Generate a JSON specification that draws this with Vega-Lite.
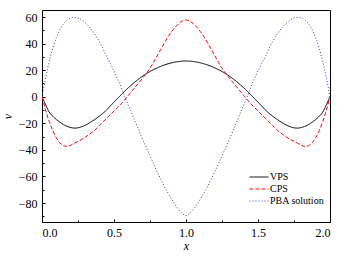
{
  "$schema": "https://vega.github.io/schema/vega-lite/v6.json",
  "autosize": {"type": "none"},
  "padding": {"left": 42, "top": 10, "right": 22, "bottom": 34},
  "width": 288,
  "height": 212,
  "background": "white",
  "config": {
    "view": {"stroke": "#000", "strokeWidth": 1},
    "font": "Liberation Serif",
    "axis": {"domainColor": "#000", "tickColor": "#000", "labelColor": "#000", "titleColor": "#000", "grid": false, "labelFont": "Liberation Serif", "titleFont": "Liberation Serif"}
  },
  "data": {"values": [
    {"x":0,"VPS":0,"CPS":0,"PBA solution":0},
    {"x":0.025,"VPS":-6,"CPS":-10,"PBA solution":14},
    {"x":0.05,"VPS":-11.5,"CPS":-18.5,"PBA solution":26.5},
    {"x":0.075,"VPS":-14.7,"CPS":-25.5,"PBA solution":36.5},
    {"x":0.1,"VPS":-17.2,"CPS":-31,"PBA solution":44.5},
    {"x":0.125,"VPS":-19.2,"CPS":-34.8,"PBA solution":50.8},
    {"x":0.15,"VPS":-21,"CPS":-36.9,"PBA solution":55},
    {"x":0.175,"VPS":-22.3,"CPS":-37.4,"PBA solution":57.8},
    {"x":0.2,"VPS":-23.2,"CPS":-36.5,"PBA solution":59.4},
    {"x":0.225,"VPS":-23.6,"CPS":-35,"PBA solution":59.8},
    {"x":0.25,"VPS":-23.4,"CPS":-33.6,"PBA solution":59.2},
    {"x":0.275,"VPS":-22.6,"CPS":-32.2,"PBA solution":57.8},
    {"x":0.3,"VPS":-21.5,"CPS":-30.5,"PBA solution":55.7},
    {"x":0.325,"VPS":-20,"CPS":-28.6,"PBA solution":53},
    {"x":0.35,"VPS":-18.3,"CPS":-26.6,"PBA solution":49.7},
    {"x":0.375,"VPS":-16.5,"CPS":-24.2,"PBA solution":45.8},
    {"x":0.4,"VPS":-14.5,"CPS":-21.5,"PBA solution":41.3},
    {"x":0.425,"VPS":-12.3,"CPS":-18.8,"PBA solution":35.8},
    {"x":0.45,"VPS":-9.8,"CPS":-16.1,"PBA solution":30},
    {"x":0.475,"VPS":-6.9,"CPS":-13.4,"PBA solution":25},
    {"x":0.5,"VPS":-4.1,"CPS":-10.7,"PBA solution":19.5},
    {"x":0.525,"VPS":-1.3,"CPS":-8,"PBA solution":13.5},
    {"x":0.55,"VPS":1.5,"CPS":-5.2,"PBA solution":7},
    {"x":0.575,"VPS":4.2,"CPS":-2.1,"PBA solution":0},
    {"x":0.6,"VPS":6.8,"CPS":1.1,"PBA solution":-6.5},
    {"x":0.625,"VPS":9.2,"CPS":4.3,"PBA solution":-13},
    {"x":0.65,"VPS":11.5,"CPS":7.6,"PBA solution":-19.5},
    {"x":0.675,"VPS":13.6,"CPS":10.9,"PBA solution":-26},
    {"x":0.7,"VPS":15.6,"CPS":14.2,"PBA solution":-32.5},
    {"x":0.725,"VPS":17.4,"CPS":17.6,"PBA solution":-38.5},
    {"x":0.75,"VPS":19,"CPS":21.5,"PBA solution":-44.5},
    {"x":0.775,"VPS":20.4,"CPS":26,"PBA solution":-50.5},
    {"x":0.8,"VPS":21.7,"CPS":30.8,"PBA solution":-56.5},
    {"x":0.825,"VPS":22.9,"CPS":35.7,"PBA solution":-62},
    {"x":0.85,"VPS":23.9,"CPS":40.5,"PBA solution":-67.5},
    {"x":0.875,"VPS":24.8,"CPS":45,"PBA solution":-72.5},
    {"x":0.9,"VPS":25.5,"CPS":49,"PBA solution":-77},
    {"x":0.925,"VPS":26.1,"CPS":52.4,"PBA solution":-81.3},
    {"x":0.95,"VPS":26.5,"CPS":55.1,"PBA solution":-85},
    {"x":0.975,"VPS":26.8,"CPS":57,"PBA solution":-88},
    {"x":1,"VPS":26.9,"CPS":57.8,"PBA solution":-89.5},
    {"x":1.025,"VPS":26.8,"CPS":57,"PBA solution":-88},
    {"x":1.05,"VPS":26.5,"CPS":55.1,"PBA solution":-85},
    {"x":1.075,"VPS":26.1,"CPS":52.4,"PBA solution":-81.3},
    {"x":1.1,"VPS":25.5,"CPS":49,"PBA solution":-77},
    {"x":1.125,"VPS":24.8,"CPS":45,"PBA solution":-72.5},
    {"x":1.15,"VPS":23.9,"CPS":40.5,"PBA solution":-67.5},
    {"x":1.175,"VPS":22.9,"CPS":35.7,"PBA solution":-62},
    {"x":1.2,"VPS":21.7,"CPS":30.8,"PBA solution":-56.5},
    {"x":1.225,"VPS":20.4,"CPS":26,"PBA solution":-50.5},
    {"x":1.25,"VPS":19,"CPS":21.5,"PBA solution":-44.5},
    {"x":1.275,"VPS":17.4,"CPS":17.6,"PBA solution":-38.5},
    {"x":1.3,"VPS":15.6,"CPS":14.2,"PBA solution":-32.5},
    {"x":1.325,"VPS":13.6,"CPS":10.9,"PBA solution":-26},
    {"x":1.35,"VPS":11.5,"CPS":7.6,"PBA solution":-19.5},
    {"x":1.375,"VPS":9.2,"CPS":4.3,"PBA solution":-13},
    {"x":1.4,"VPS":6.8,"CPS":1.1,"PBA solution":-6.5},
    {"x":1.425,"VPS":4.2,"CPS":-2.1,"PBA solution":0},
    {"x":1.45,"VPS":1.5,"CPS":-5.2,"PBA solution":7},
    {"x":1.475,"VPS":-1.3,"CPS":-8,"PBA solution":13.5},
    {"x":1.5,"VPS":-4.1,"CPS":-10.7,"PBA solution":19.5},
    {"x":1.525,"VPS":-6.9,"CPS":-13.4,"PBA solution":25},
    {"x":1.55,"VPS":-9.8,"CPS":-16.1,"PBA solution":30},
    {"x":1.575,"VPS":-12.3,"CPS":-18.8,"PBA solution":35.8},
    {"x":1.6,"VPS":-14.5,"CPS":-21.5,"PBA solution":41.3},
    {"x":1.625,"VPS":-16.5,"CPS":-24.2,"PBA solution":45.8},
    {"x":1.65,"VPS":-18.3,"CPS":-26.6,"PBA solution":49.7},
    {"x":1.675,"VPS":-20,"CPS":-28.6,"PBA solution":53},
    {"x":1.7,"VPS":-21.5,"CPS":-30.5,"PBA solution":55.7},
    {"x":1.725,"VPS":-22.6,"CPS":-32.2,"PBA solution":57.8},
    {"x":1.75,"VPS":-23.4,"CPS":-33.6,"PBA solution":59.2},
    {"x":1.775,"VPS":-23.6,"CPS":-35,"PBA solution":59.8},
    {"x":1.8,"VPS":-23.2,"CPS":-36.5,"PBA solution":59.4},
    {"x":1.825,"VPS":-22.3,"CPS":-37.4,"PBA solution":57.8},
    {"x":1.85,"VPS":-21,"CPS":-36.9,"PBA solution":55},
    {"x":1.875,"VPS":-19.2,"CPS":-34.8,"PBA solution":50.8},
    {"x":1.9,"VPS":-17.2,"CPS":-31,"PBA solution":44.5},
    {"x":1.925,"VPS":-14.7,"CPS":-25.5,"PBA solution":36.5},
    {"x":1.95,"VPS":-11.5,"CPS":-18.5,"PBA solution":26.5},
    {"x":1.975,"VPS":-6,"CPS":-10,"PBA solution":14},
    {"x":2,"VPS":0,"CPS":0,"PBA solution":0}
  ]},
  "transform": [{"fold": ["VPS", "CPS", "PBA solution"], "as": ["series", "v"]}],
  "layer": [
    {
      "mark": {"type": "line", "interpolate": "monotone", "strokeWidth": 1, "clip": true},
      "encoding": {
        "x": {"field": "x", "type": "quantitative",
          "scale": {"domain": [0, 2], "nice": false},
          "axis": {"values": [0, 0.5, 1, 1.5, 2], "format": ".1f", "tickSize": -3, "labelPadding": 8, "labelFontSize": 12, "labelFont": "Liberation Serif", "title": "x", "titleFont": "Liberation Serif", "titleFontStyle": "italic", "titleFontWeight": "normal", "titleFontSize": 12, "titlePadding": 2}},
        "y": {"field": "v", "type": "quantitative",
          "scale": {"domain": [-94.3, 65.3], "nice": false, "zero": false},
          "axis": {"values": [-80, -60, -40, -20, 0, 20, 40, 60], "tickSize": -3, "labelPadding": 8, "labelFontSize": 12, "labelFont": "Liberation Serif", "title": "v", "titleFont": "Liberation Serif", "titleFontStyle": "italic", "titleFontWeight": "normal", "titleFontSize": 12, "titlePadding": 4}},
        "color": {"field": "series", "type": "nominal",
          "scale": {"domain": ["VPS", "CPS", "PBA solution"], "range": ["#000000", "#ff0000", "#3a3aa8"]},
          "legend": {"title": null, "orient": "none", "legendX": 207, "legendY": 163, "symbolType": "stroke", "symbolSize": 361, "symbolStrokeWidth": 1, "labelFontSize": 10, "labelFont": "Liberation Serif", "labelColor": "#000", "labelOffset": 1, "clipHeight": 8, "rowPadding": 2, "padding": 0}},
        "strokeDash": {"field": "series", "type": "nominal",
          "scale": {"domain": ["VPS", "CPS", "PBA solution"], "range": [[1, 0], [4, 2], [1, 2]]},
          "legend": {"title": null, "orient": "none", "legendX": 207, "legendY": 163, "symbolType": "stroke", "symbolSize": 361, "symbolStrokeWidth": 1, "labelFontSize": 10, "labelFont": "Liberation Serif", "labelColor": "#000", "labelOffset": 1, "clipHeight": 8, "rowPadding": 2, "padding": 0}}
      }
    },
    {
      "mark": {"type": "line", "strokeOpacity": 0},
      "encoding": {
        "x": {"field": "x", "type": "quantitative",
          "axis": {"orient": "bottom", "values": [0.25, 0.75, 1.25, 1.75], "labels": false, "tickSize": -2, "domain": false, "title": null}},
        "y": {"field": "v", "type": "quantitative",
          "axis": {"orient": "left", "values": [-90, -70, -50, -30, -10, 10, 30, 50], "labels": false, "tickSize": -2, "domain": false, "title": null}}
      }
    }
  ],
  "resolve": {"axis": {"x": "independent", "y": "independent"}}
}
